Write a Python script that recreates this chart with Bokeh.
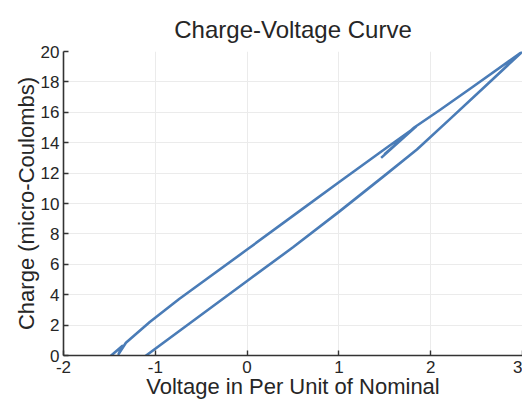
from bokeh.plotting import figure
from bokeh.models import Range1d, FixedTicker
from bokeh.embed import file_html
from bokeh.resources import INLINE

# Data (voltage in p.u., charge in micro-Coulombs)
voltage = [1.46, 1.84, 1.50, 1.82, 2.10, 2.46, 3.00, 2.60, 2.20, 1.85, 1.50, 1.00,
           0.50, 0.00, -0.55, -1.10, -1.30, -1.65, -1.48, -1.36, -1.40, -1.32,
           -1.06, -0.74, 0.00, 0.57, 1.00, 1.44, 1.55, 1.84]
charge = [13.0, 15.06, 13.25, 15.0, 16.15, 17.68, 20.0, 17.75, 15.5, 13.55, 11.85, 9.45,
          7.12, 4.9, 2.45, 0.0, -0.9, -0.9, 0.0, 0.63, 0.1, 0.84,
          2.21, 3.72, 6.97, 9.5, 11.4, 13.32, 13.8, 15.05]

x_ticks = [-2, -1, 0, 1, 2, 3]
y_ticks = [0, 2, 4, 6, 8, 10, 12, 14, 16, 18, 20]

TEXT = "#262626"
FONT = "Liberation Sans"

p = figure(width=522, height=401, output_backend="svg", toolbar_location=None,
           x_range=Range1d(-2, 3), y_range=Range1d(0, 20),
           title="Charge-Voltage Curve",
           min_border_left=63, min_border_right=0, min_border_top=51,
           min_border_bottom=0)

p.title.align = "center"
p.title.text_font = FONT
p.title.text_font_size = "24px"
p.title.text_font_style = "normal"
p.title.text_color = TEXT
p.title.text_line_height = 0.8
p.title.standoff = 18

p.outline_line_color = None
p.background_fill_color = "white"
p.border_fill_color = "white"

p.xaxis.ticker = FixedTicker(ticks=x_ticks)
p.yaxis.ticker = FixedTicker(ticks=y_ticks)
p.xaxis.major_label_overrides = {t: str(t) for t in x_ticks}
p.xaxis.axis_label = "Voltage in Per Unit of Nominal"
p.yaxis.axis_label = "Charge (micro-Coulombs)"

for ax in (p.xaxis, p.yaxis):
    ax.axis_label_text_font = FONT
    ax.axis_label_text_font_size = "22px"
    ax.axis_label_text_font_style = "normal"
    ax.axis_label_text_color = TEXT
    ax.major_label_text_font = FONT
    ax.major_label_text_font_size = "17px"
    ax.major_label_text_color = TEXT
    ax.axis_line_color = "#333333"
    ax.axis_line_width = 1.6
    ax.major_tick_line_color = "#333333"
    ax.major_tick_line_width = 1.4
    ax.major_tick_in = 5
    ax.major_tick_out = 0
    ax.minor_tick_line_color = None

p.xaxis.major_label_standoff = 5
p.xaxis.axis_label_standoff = -2
p.yaxis.major_label_standoff = 4
p.yaxis.axis_label_standoff = -1

p.grid.grid_line_color = "#ebebeb"
p.grid.grid_line_width = 1

p.line(voltage, charge, line_color="#4a7cb7", line_width=2.6, line_join="round")

open("out.html", "w").write(file_html(p, INLINE))
